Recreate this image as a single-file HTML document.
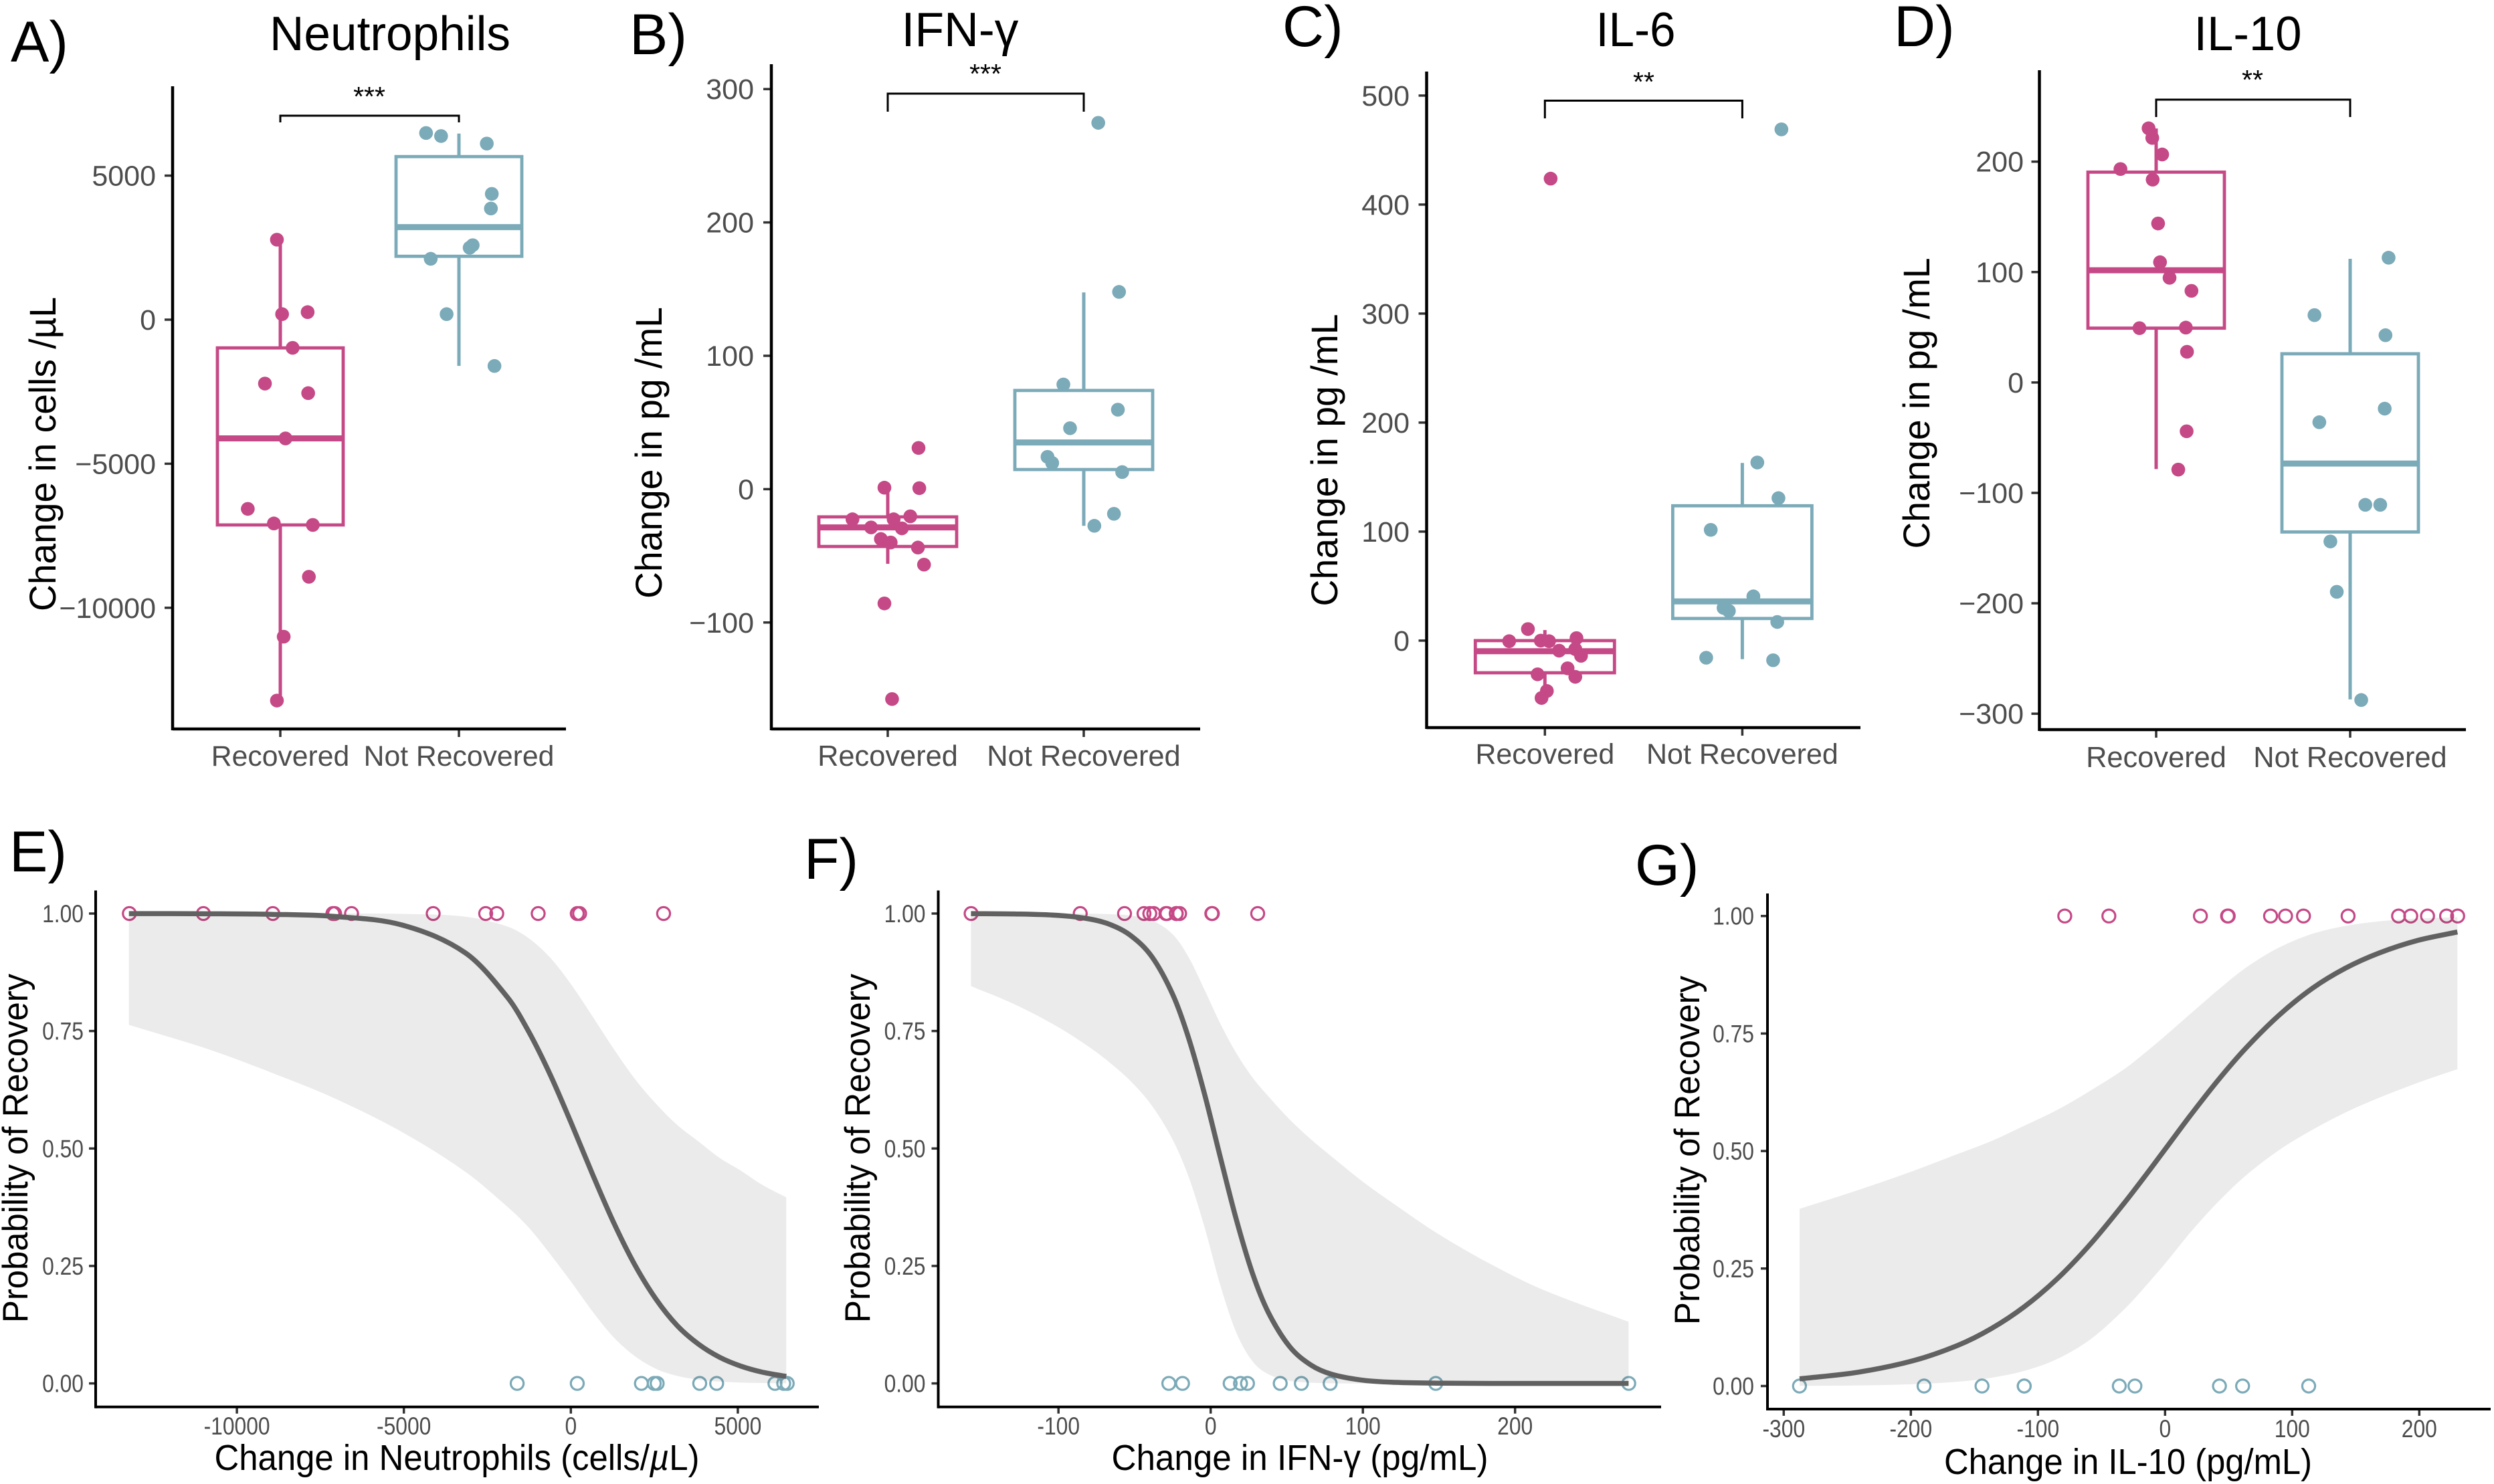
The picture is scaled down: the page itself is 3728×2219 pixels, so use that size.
<!DOCTYPE html>
<html lang="en">
<head>
<meta charset="utf-8">
<title>Change in neutrophils and cytokines by recovery status</title>
<style>
html,body{margin:0;padding:0;background:#fff}
svg{display:block}
text{font-family:"Liberation Sans","DejaVu Sans",sans-serif}
</style>
</head>
<body>
<svg id="figure" xmlns="http://www.w3.org/2000/svg" width="3728" height="2219" viewBox="0 0 3728 2219">
  <rect width="3728" height="2219" fill="#ffffff"/>
  <text x="16" y="92" font-size="86" fill="#000">A)</text>
  <text x="941" y="81" font-size="86" fill="#000">B)</text>
  <text x="1917" y="69" font-size="86" fill="#000">C)</text>
  <text x="2831" y="69" font-size="86" fill="#000">D)</text>
  <text x="14" y="1303" font-size="86" fill="#000">E)</text>
  <text x="1202" y="1314" font-size="86" fill="#000">F)</text>
  <text x="2444" y="1323" font-size="86" fill="#000">G)</text>
</svg>
<script>
// ---------- shared categories ----------
const boxCategories = ['Recovered', 'Not Recovered'];
const probabilityTicks = [0, 0.25, 0.5, 0.75, 1];

// ---------- A: Neutrophils ----------
const neutTicks = [5000, 0, -5000, -10000];
const neutRecovered = [2777, 192, 262, -978, -2218, -2550, -4122, -6567, -7073, -7125, -8924, -11003, -13220];
const neutRecoveredJitter = [-0.019, 0.010, 0.153, 0.069, -0.086, 0.156, 0.029, -0.182, -0.036, 0.182, 0.160, 0.019, -0.019];
const neutNot = [6479, 6374, 6112, 4366, 3859, 2585, 2497, 2113, 192, -1607];
const neutNotJitter = [-0.184, -0.100, 0.156, 0.184, 0.179, 0.077, 0.060, -0.158, -0.069, 0.199];
const neutRecoveredBox = [-13220, -7125, -4120, -980, 2776];
const neutNotBox = [-1606, 2200, 3213, 5660, 6460];

// ---------- B: IFN-gamma ----------
const ifnTicks = [300, 200, 100, 0, -100];
const ifnRecovered = [30.9, 1.1, 0.75, -22.6, -22.6, -20.4, -28.7, -29.4, -37.4, -40, -43.8, -56.6, -85.7, -157.4];
const ifnRecoveredJitter = [0.157, -0.017, 0.161, -0.180, 0.030, 0.115, -0.085, 0.072, -0.035, 0.015, 0.154, 0.185, -0.017, 0.022];
const ifnNot = [274.7, 147.9, 78.5, 59.6, 45.7, 24.2, 19.6, 12.8, -18.5, -27.5];
const ifnNotJitter = [0.074, 0.180, -0.104, 0.174, -0.070, -0.185, -0.161, 0.196, 0.154, 0.054];
const ifnRecoveredBox = [-56, -43, -28.7, -20.8, 0];
const ifnNotBox = [-27.5, 14.7, 35, 74, 147.5];

// ---------- C: IL-6 ----------
const il6Ticks = [500, 400, 300, 200, 100, 0];
const il6Recovered = [423.8, 10.6, -0.5, 0, -0.5, 2.3, -9.2, -7.8, -13.9, -25.4, -30.9, -33.2, -46.2, -52.6];
const il6RecoveredJitter = [0.029, -0.086, -0.181, -0.021, 0.021, 0.160, 0.072, 0.154, 0.183, 0.115, -0.037, 0.154, 0.010, -0.017];
const il6Not = [469, 163.4, 130.7, 101.6, 40.6, 30, 27.2, 17.1, -15.7, -18];
const il6NotJitter = [0.198, 0.076, 0.183, -0.160, 0.056, -0.095, -0.068, 0.177, -0.183, 0.156];
const il6RecoveredBox = [-52, -29.5, -9.7, 0, 9.7];
const il6NotBox = [-17, 20.3, 36, 123.7, 163];

// ---------- D: IL-10 ----------
const il10Ticks = [200, 100, 0, -100, -200, -300];
const il10Recovered = [230.2, 221.5, 206.5, 193.3, 183.7, 144, 108.9, 94.8, 83, 49.2, 49.7, 27.8, -44.2, -78.9];
const il10RecoveredJitter = [-0.039, -0.020, 0.031, -0.184, -0.018, 0.010, 0.020, 0.069, 0.182, -0.086, 0.153, 0.159, 0.157, 0.114];
const il10Not = [113, 61, 42.8, -23.7, -36, -110.8, -110.8, -144, -189.6, -287.6];
const il10NotJitter = [0.198, -0.184, 0.182, 0.178, -0.159, 0.078, 0.155, -0.102, -0.069, 0.057];
const il10RecoveredBox = [-78.4, 49.2, 101.6, 190.5, 230];
const il10NotBox = [-287, -135.4, -73.4, 26, 112];

// ---------- E: logistic fit on neutrophils ----------
const neutFitTicks = [-10000, -5000, 0, 5000];
const neutFitX = [-13233, -10761, -8954, -7116, -5055, -3154, -1886, -1252, -618, 0, 650, 1284, 1918, 2552, 3185, 3819, 4453, 5087, 5721, 6450];
const neutFit = [0.9999, 0.9995, 0.9983, 0.994, 0.9756, 0.916, 0.8207, 0.7474, 0.657, 0.556, 0.445, 0.342, 0.252, 0.179, 0.123, 0.0837, 0.0557, 0.0369, 0.0242, 0.0148];
const neutFitHigh = [1, 1, 1, 1, 0.9993, 0.9932, 0.972, 0.947, 0.906, 0.850, 0.781, 0.712, 0.648, 0.595, 0.55, 0.515, 0.48, 0.453, 0.423, 0.396];
const neutFitLow = [0.763, 0.709, 0.661, 0.608, 0.535, 0.45, 0.375, 0.331, 0.275, 0.217, 0.153, 0.098, 0.058, 0.031, 0.016, 0.0078, 0.0038, 0.0018, 0.0008, 0.0003];

// ---------- F: logistic fit on IFN-gamma ----------
const ifnFitTicks = [-100, 0, 100, 200];
const ifnFitX = [-157.5, -129, -101.1, -80.3, -66.4, -52.5, -38.6, -24.7, -14.3, -3.8, 6.6, 17, 27.5, 37.9, 51.8, 65.7, 79.6, 100.5, 121.3, 149.1, 183.9, 218.6, 274.6];
const ifnFit = [0.9998, 0.9991, 0.9962, 0.9888, 0.977, 0.953, 0.908, 0.826, 0.733, 0.613, 0.478, 0.347, 0.234, 0.151, 0.0787, 0.0395, 0.0194, 0.0066, 0.0022, 0.0005, 0, 0, 0];
const ifnFitHigh = [1, 1, 1, 0.9997, 0.9988, 0.9957, 0.9854, 0.955, 0.906, 0.836, 0.764, 0.702, 0.651, 0.611, 0.562, 0.52, 0.4825, 0.428, 0.38, 0.319, 0.254, 0.199, 0.131];
const ifnFitLow = [0.8455, 0.807, 0.76, 0.717, 0.683, 0.643, 0.591, 0.517, 0.438, 0.33, 0.206, 0.107, 0.047, 0.0196, 0.0057, 0.0016, 0.0004, 0, 0, 0, 0, 0, 0];

// ---------- G: logistic fit on IL-10 ----------
const il10FitTicks = [-300, -200, -100, 0, 100, 200];
const il10FitX = [-287.5, -241.3, -197.7, -162.9, -136.8, -110.6, -84.5, -58.4, -32.2, -14.8, 2.6, 20, 41.8, 63.6, 89.7, 115.8, 141.9, 168.1, 198.6, 230];
const il10Fit = [0.0153, 0.0295, 0.0542, 0.0867, 0.122, 0.169, 0.229, 0.303, 0.389, 0.450, 0.513, 0.576, 0.651, 0.719, 0.789, 0.846, 0.889, 0.921, 0.948, 0.966];
const il10FitHigh = [0.377, 0.417, 0.458, 0.494, 0.521, 0.554, 0.588, 0.629, 0.674, 0.711, 0.751, 0.792, 0.843, 0.89, 0.933, 0.962, 0.979, 0.9886, 0.9946, 0.9975];
const il10FitLow = [0.0004, 0.0013, 0.0039, 0.0092, 0.0175, 0.0323, 0.058, 0.1, 0.163, 0.214, 0.269, 0.327, 0.392, 0.448, 0.502, 0.545, 0.582, 0.613, 0.645, 0.674];

// ---------- drawing ----------
const PINK = '#C54986';
const TEAL = '#7BAAB8';
const TICK_GREY = '#4D4D4D';
const NS = 'http://www.w3.org/2000/svg';
const figure = document.getElementById('figure');

function mk(parent, tag, attrs, content) {
  const node = document.createElementNS(NS, tag);
  for (const k in attrs) node.setAttribute(k, attrs[k]);
  if (content !== undefined) node.textContent = content;
  parent.appendChild(node);
  return node;
}

function smoothPath(pts, start) {
  let d = (start ? 'M' : 'L') + pts[0][0].toFixed(2) + ' ' + pts[0][1].toFixed(2);
  const slope = i => {
    const a = pts[Math.max(i - 1, 0)], b = pts[Math.min(i + 1, pts.length - 1)];
    return (b[1] - a[1]) / (b[0] - a[0]);
  };
  for (let i = 0; i < pts.length - 1; i++) {
    const p1 = pts[i], p2 = pts[i + 1];
    const h = (p2[0] - p1[0]) / 3;
    const c1x = p1[0] + h, c1y = p1[1] + slope(i) * h;
    const c2x = p2[0] - h, c2y = p2[1] - slope(i + 1) * h;
    d += 'C' + c1x.toFixed(2) + ' ' + c1y.toFixed(2) + ' ' + c2x.toFixed(2) + ' ' + c2y.toFixed(2) + ' ' + p2[0].toFixed(2) + ' ' + p2[1].toFixed(2);
  }
  return d;
}

function drawBoxGroup(g, cat, color, name, box, values, jitter, xCenter, yOf, halfW, catDist) {
  const [low, q1, med, q3, high] = box;
  const group = mk(g, 'g', {});
  
  

  const whiskerUp = mk(group, 'line', {x1: xCenter, x2: xCenter, y1: yOf(q3), y2: yOf(high), stroke: color, 'stroke-width': 5});
  
  

  const whiskerDown = mk(group, 'line', {x1: xCenter, x2: xCenter, y1: yOf(q1), y2: yOf(low), stroke: color, 'stroke-width': 5});
  
  

  const rect = mk(group, 'rect', {x: xCenter - halfW, y: yOf(q3), width: halfW * 2, height: yOf(q1) - yOf(q3), fill: 'none', stroke: color, 'stroke-width': 4.8});
  
  

  const median = mk(group, 'line', {x1: xCenter - halfW, x2: xCenter + halfW, y1: yOf(med), y2: yOf(med), stroke: color, 'stroke-width': 9});
  
  

  values.forEach((v, i) => {
    const dot = mk(group, 'circle', {cx: xCenter + jitter[i] * catDist, cy: yOf(v), r: 10.3, fill: color});
    
    
  });
}

function drawBoxPanel(p) {
  const g = mk(figure, 'g', {});
  
  
  const yOf = v => p.y0 - v * p.k;
  const catDist = p.cat2 - p.cat1;

  const title = mk(g, 'text', {x: p.titleX, y: p.titleY, 'font-size': 72, 'text-anchor': 'middle', fill: '#000', textLength: p.titleLen, lengthAdjust: 'spacingAndGlyphs'}, p.title);
  
  

  const ytitle = mk(g, 'text', {transform: 'translate(' + p.yTitleX + ',' + p.yTitleC + ') rotate(-90)', 'font-size': 56, 'text-anchor': 'middle', fill: '#000', textLength: p.yTitleLen, lengthAdjust: 'spacingAndGlyphs'}, p.yTitle);
  
  

  p.ticks.forEach(t => {
    const tick = mk(g, 'line', {x1: p.axisX - 12, x2: p.axisX, y1: yOf(t), y2: yOf(t), stroke: '#333', 'stroke-width': 3.5});
    
    
    const label = mk(g, 'text', {x: p.labelRight, y: yOf(t) + 15, 'font-size': 43, 'text-anchor': 'end', fill: TICK_GREY}, String(t).replace('-', '\u2212'));
    
    
  });

  [p.cat1, p.cat2].forEach((cx, i) => {
    const tick = mk(g, 'line', {x1: cx, x2: cx, y1: p.axisY, y2: p.axisY + 12, stroke: '#333', 'stroke-width': 3.5});
    
    
    const label = mk(g, 'text', {x: cx, y: p.catY, 'font-size': p.catFont, 'text-anchor': 'middle', fill: TICK_GREY}, boxCategories[i]);
    
    
  });

  drawBoxGroup(g, boxCategories[0], PINK, 'recovered', p.recBox, p.rec, p.recJ, p.cat1, yOf, p.halfW, catDist);
  drawBoxGroup(g, boxCategories[1], TEAL, 'not-recovered', p.notBox, p.not, p.notJ, p.cat2, yOf, p.halfW, catDist);

  const axisLeft = mk(g, 'line', {x1: p.axisX, x2: p.axisX, y1: p.top, y2: p.axisY + 2, stroke: '#000', 'stroke-width': 4.5});
  
  

  const axisBottom = mk(g, 'line', {x1: p.axisX, x2: p.right, y1: p.axisY, y2: p.axisY, stroke: '#000', 'stroke-width': 4.5});
  
  

  const bracket = mk(g, 'path', {d: 'M' + p.cat1 + ' ' + p.brLeg + 'V' + p.brY + 'H' + p.cat2 + 'V' + p.brLeg, fill: 'none', stroke: '#000', 'stroke-width': 3});
  
  

  const stars = mk(g, 'text', {x: p.starX, y: p.starY, 'font-size': 41, 'text-anchor': 'middle', fill: '#000'}, p.stars);
  
  
}

function drawFitPanel(p) {
  const g = mk(figure, 'g', {});
  
  
  const xOf = v => p.x0 + v * p.kx;
  const yOf = v => p.yZero - v * (p.yZero - p.yOne);

  const ytitle = mk(g, 'text', {transform: 'translate(' + p.yTitleX + ',' + p.yTitleC + ') rotate(-90)', 'font-size': 53, 'text-anchor': 'middle', fill: '#000', textLength: 522, lengthAdjust: 'spacingAndGlyphs'}, 'Probability of Recovery');
  
  

  const xtitle = mk(g, 'text', {x: p.xTitleX, y: p.xTitleY, 'font-size': 54, 'text-anchor': 'middle', fill: '#000', textLength: p.xTitleLen, lengthAdjust: 'spacingAndGlyphs'});
  
  
  p.xTitleParts.forEach(part => {
    const span = mk(xtitle, 'tspan', part.italic ? {'font-style': 'italic'} : {}, part.text);
    
    
  });

  probabilityTicks.forEach(t => {
    const tick = mk(g, 'line', {x1: p.axisX - 10, x2: p.axisX, y1: yOf(t), y2: yOf(t), stroke: '#333', 'stroke-width': 3.5});
    
    
    const label = mk(g, 'text', {transform: 'translate(' + p.labelRight + ',' + (yOf(t) + 13) + ') scale(0.86,1)', 'font-size': 37, 'text-anchor': 'end', fill: TICK_GREY}, t.toFixed(2));
    
    
  });

  p.xTicks.forEach(t => {
    const tick = mk(g, 'line', {x1: xOf(t), x2: xOf(t), y1: p.axisY, y2: p.axisY + 10, stroke: '#333', 'stroke-width': 3.5});
    
    
    const label = mk(g, 'text', {transform: 'translate(' + xOf(t) + ',' + p.xLabelY + ') scale(0.86,1)', 'font-size': 37, 'text-anchor': 'middle', fill: TICK_GREY}, String(t));
    
    
  });

  p.rec.forEach(v => {
    const c = mk(g, 'circle', {cx: xOf(v), cy: yOf(1), r: 9.6, fill: 'none', stroke: PINK, 'stroke-width': 3.2});
    
    
  });
  p.not.forEach(v => {
    const c = mk(g, 'circle', {cx: xOf(v), cy: yOf(0), r: 9.6, fill: 'none', stroke: TEAL, 'stroke-width': 3.2});
    
    
  });

  const upper = p.fx.map((x, i) => [xOf(x), yOf(p.hi[i])]);
  const lower = p.fx.map((x, i) => [xOf(x), yOf(p.lo[i])]).reverse();
  const band = mk(g, 'path', {d: smoothPath(upper, true) + smoothPath(lower, false) + 'Z', fill: '#333333', 'fill-opacity': 0.098});
  
  

  const curve = mk(g, 'path', {d: smoothPath(p.fx.map((x, i) => [xOf(x), yOf(p.fit[i])]), true), fill: 'none', stroke: '#616161', 'stroke-width': 7.5});
  
  

  const axisLeft = mk(g, 'line', {x1: p.axisX, x2: p.axisX, y1: p.top, y2: p.axisY + 2, stroke: '#000', 'stroke-width': 4});
  
  

  const axisBottom = mk(g, 'line', {x1: p.axisX, x2: p.right, y1: p.axisY, y2: p.axisY, stroke: '#000', 'stroke-width': 4});
  
  
}

drawBoxPanel({name: 'neutrophils', title: 'Neutrophils', titleX: 583, titleY: 75, titleLen: 360,
  yTitle: 'Change in cells /\u00B5L', yTitleX: 83, yTitleC: 679, yTitleLen: 470, catFont: 42.7,
  axisX: 258, axisY: 1090, top: 129, right: 846, y0: 478, k: 0.04308, cat1: 419, cat2: 686, halfW: 94,
  labelRight: 233, catY: 1145, brY: 173, brLeg: 183, starX: 552, starY: 158, stars: '***',
  ticks: neutTicks, rec: neutRecovered, recJ: neutRecoveredJitter, not: neutNot, notJ: neutNotJitter, recBox: neutRecoveredBox, notBox: neutNotBox});

drawBoxPanel({name: 'ifn-gamma', title: 'IFN-\u03B3', titleX: 1435, titleY: 69, titleLen: 175,
  yTitle: 'Change in pg /mL', yTitleX: 989, yTitleC: 677, yTitleLen: 436, catFont: 43.4,
  axisX: 1153, axisY: 1090, top: 96, right: 1794, y0: 731.4, k: 1.994, cat1: 1327, cat2: 1620, halfW: 103,
  labelRight: 1127, catY: 1145, brY: 140, brLeg: 167, starX: 1473, starY: 124, stars: '***',
  ticks: ifnTicks, rec: ifnRecovered, recJ: ifnRecoveredJitter, not: ifnNot, notJ: ifnNotJitter, recBox: ifnRecoveredBox, notBox: ifnNotBox});

drawBoxPanel({name: 'il-6', title: 'IL-6', titleX: 2445, titleY: 69, titleLen: 119,
  yTitle: 'Change in pg /mL', yTitleX: 1999, yTitleC: 688, yTitleLen: 437, catFont: 43,
  axisX: 2132.5, axisY: 1088, top: 107, right: 2781, y0: 957.9, k: 1.63, cat1: 2309.3, cat2: 2604.4, halfW: 104,
  labelRight: 2107, catY: 1142, brY: 150.5, brLeg: 177, starX: 2457, starY: 136, stars: '**',
  ticks: il6Ticks, rec: il6Recovered, recJ: il6RecoveredJitter, not: il6Not, notJ: il6NotJitter, recBox: il6RecoveredBox, notBox: il6NotBox});

drawBoxPanel({name: 'il-10', title: 'IL-10', titleX: 3360, titleY: 75, titleLen: 161,
  yTitle: 'Change in pg /mL', yTitleX: 2884, yTitleC: 603, yTitleLen: 435, catFont: 43.4,
  axisX: 3048.5, axisY: 1091, top: 105, right: 3686, y0: 571.9, k: 1.651, cat1: 3223, cat2: 3513, halfW: 102,
  labelRight: 3025, catY: 1147, brY: 149, brLeg: 175, starX: 3367, starY: 133, stars: '**',
  ticks: il10Ticks, rec: il10Recovered, recJ: il10RecoveredJitter, not: il10Not, notJ: il10NotJitter, recBox: il10RecoveredBox, notBox: il10NotBox});

drawFitPanel({name: 'neutrophils-fit', axisX: 143, axisY: 2103.7, top: 1331.5, right: 1224,
  x0: 853.3, kx: 0.04992, yOne: 1366, yZero: 2068.6, labelRight: 125, xLabelY: 2145,
  yTitleX: 41, yTitleC: 1717, xTitleX: 683, xTitleY: 2198, xTitleLen: 725,
  xTitleParts: [{text: 'Change in Neutrophils (cells/'}, {text: '\u00B5', italic: true}, {text: 'L)'}],
  xTicks: neutFitTicks, rec: neutRecovered, not: neutNot, fx: neutFitX, fit: neutFit, hi: neutFitHigh, lo: neutFitLow});

drawFitPanel({name: 'ifn-gamma-fit', axisX: 1402.5, axisY: 2103.7, top: 1331.5, right: 2483,
  x0: 1809.7, kx: 2.275, yOne: 1366, yZero: 2068.6, labelRight: 1383.5, xLabelY: 2145,
  yTitleX: 1300, yTitleC: 1717, xTitleX: 1943, xTitleY: 2198, xTitleLen: 563,
  xTitleParts: [{text: 'Change in IFN-\u03B3 (pg/mL)'}],
  xTicks: ifnFitTicks, rec: ifnRecovered, not: ifnNot, fx: ifnFitX, fit: ifnFit, hi: ifnFitHigh, lo: ifnFitLow});

drawFitPanel({name: 'il-10-fit', axisX: 2642, axisY: 2107, top: 1336, right: 3723,
  x0: 3236.3, kx: 1.9, yOne: 1369.7, yZero: 2072.5, labelRight: 2622, xLabelY: 2149,
  yTitleX: 2540, yTitleC: 1720, xTitleX: 3181, xTitleY: 2204, xTitleLen: 550,
  xTitleParts: [{text: 'Change in IL-10 (pg/mL)'}],
  xTicks: il10FitTicks, rec: il10Recovered, not: il10Not, fx: il10FitX, fit: il10Fit, hi: il10FitHigh, lo: il10FitLow});
</script>
</body>
</html>
